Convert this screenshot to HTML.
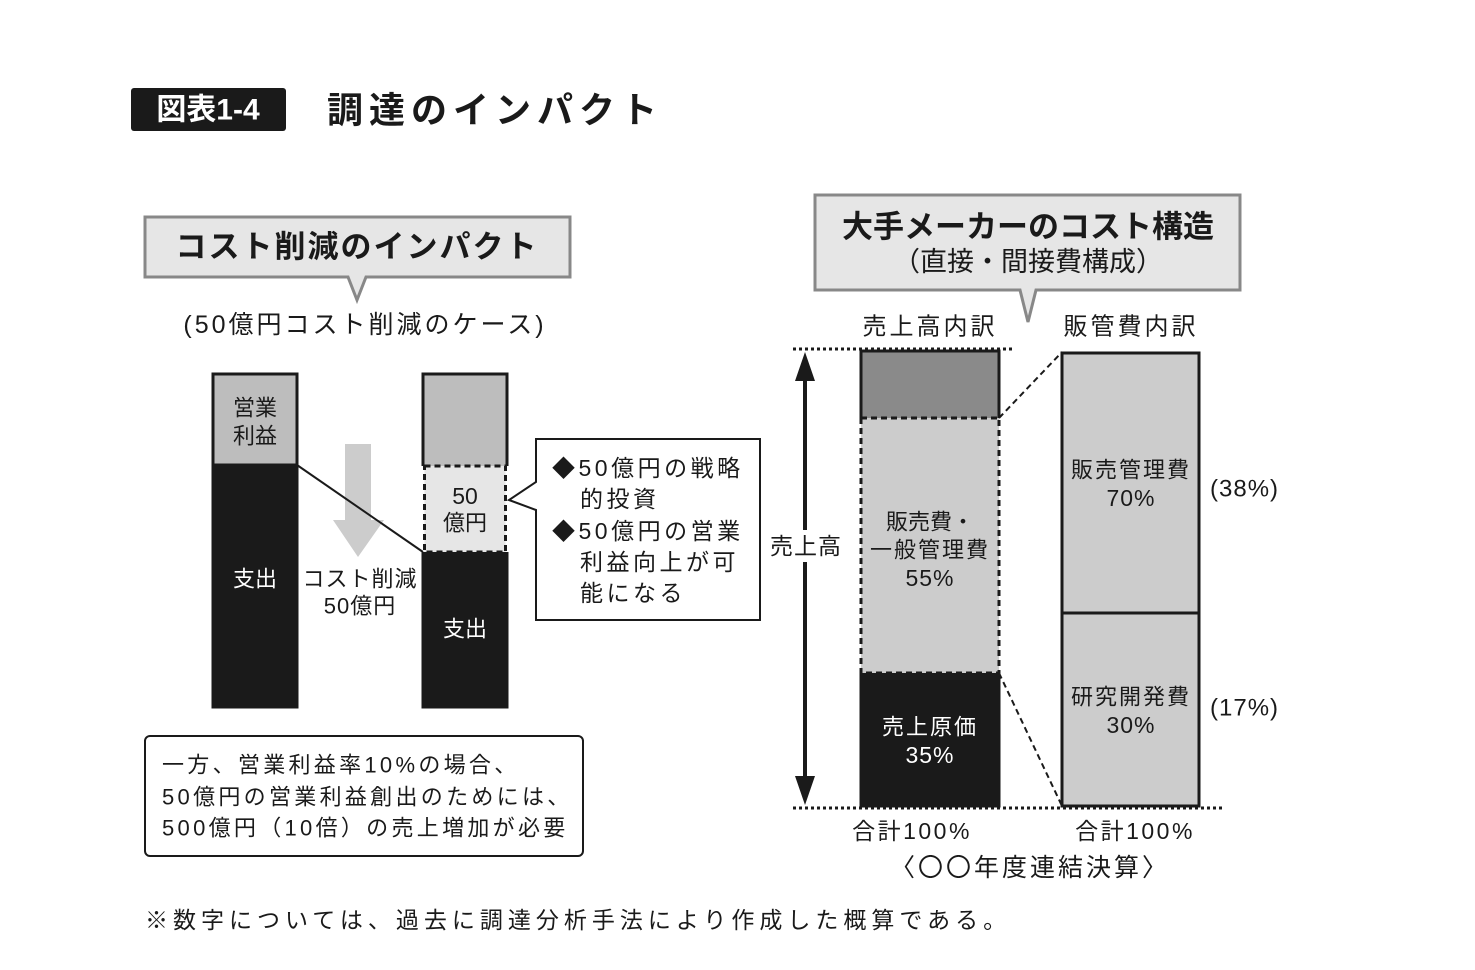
<!DOCTYPE html>
<html><head><meta charset="utf-8"><style>
body{margin:0;background:#fff}
svg{display:block;font-family:"Liberation Sans","Noto Sans CJK JP",sans-serif}
text{dominant-baseline:central}
</style></head><body>
<svg width="1475" height="970" viewBox="0 0 1475 970" xmlns="http://www.w3.org/2000/svg">
<rect x="131" y="88" width="155" height="43" rx="3" fill="#1a1a1a"/>
<text x="208" y="110" font-size="30" font-weight="bold" fill="#fff" text-anchor="middle">図表1-4</text>
<text x="327" y="110" font-size="36" font-weight="bold" fill="#1a1a1a" letter-spacing="6">調達のインパクト</text>

<path d="M145 217 H570 V277 H366 L357 300 L348 277 H145 Z" fill="#e6e6e6" stroke="#888" stroke-width="3"/>
<text x="357" y="247" font-size="31" font-weight="bold" text-anchor="middle" fill="#1a1a1a" letter-spacing="2">コスト削減のインパクト</text>
<text x="365" y="325" font-size="25" text-anchor="middle" fill="#1a1a1a" letter-spacing="3">(50億円コスト削減のケース)</text>

<rect x="213" y="374" width="84" height="333" fill="#1a1a1a" stroke="#1a1a1a" stroke-width="3"/>
<rect x="214.5" y="375.5" width="81" height="89" fill="#bdbdbd"/>
<line x1="213" y1="465" x2="297" y2="465" stroke="#1a1a1a" stroke-width="3"/>
<text x="255" y="408" font-size="22" text-anchor="middle" fill="#1a1a1a">営業</text>
<text x="255" y="436" font-size="22" text-anchor="middle" fill="#1a1a1a">利益</text>
<text x="255" y="579" font-size="22" text-anchor="middle" fill="#fff">支出</text>

<path d="M345 444 H371 V520 H384 L358 557 L333 520 H345 Z" fill="#cccccc"/>
<line x1="297" y1="465" x2="423" y2="552" stroke="#1a1a1a" stroke-width="2"/>
<text x="360" y="579" font-size="22" text-anchor="middle" fill="#1a1a1a" letter-spacing="1">コスト削減</text>
<text x="360" y="606" font-size="22" text-anchor="middle" fill="#1a1a1a" letter-spacing="1">50億円</text>

<rect x="424.5" y="375.5" width="81" height="91" fill="#bdbdbd"/>
<rect x="424.5" y="466" width="81" height="86" fill="#e6e6e6"/>
<rect x="424.5" y="552" width="81" height="154" fill="#1a1a1a"/>
<path d="M423 466 V374 H507 V466" fill="none" stroke="#1a1a1a" stroke-width="3"/>
<path d="M423 552 V707 H507 V552" fill="none" stroke="#1a1a1a" stroke-width="3"/>
<rect x="424.5" y="466" width="81" height="86" fill="none" stroke="#1a1a1a" stroke-width="3" stroke-dasharray="6 4"/>
<text x="465" y="496" font-size="23" text-anchor="middle" fill="#1a1a1a">50</text>
<text x="465" y="523" font-size="22" text-anchor="middle" fill="#1a1a1a">億円</text>
<text x="465" y="629" font-size="22" text-anchor="middle" fill="#fff">支出</text>

<path d="M536 439 H760 V620 H536 V510 L509 500 L536 482 Z" fill="#fff" stroke="#1a1a1a" stroke-width="2"/>
<g font-size="23" fill="#1a1a1a" letter-spacing="3.5">
<text x="552" y="468">◆50億円の戦略</text>
<text x="580" y="499">的投資</text>
<text x="552" y="531">◆50億円の営業</text>
<text x="580" y="562">利益向上が可</text>
<text x="580" y="593">能になる</text>
</g>

<rect x="145" y="736" width="438" height="120" rx="5" fill="#fff" stroke="#1a1a1a" stroke-width="2"/>
<g font-size="22" fill="#1a1a1a" letter-spacing="3.3">
<text x="162" y="765">一方、営業利益率10%の場合、</text>
<text x="162" y="797">50億円の営業利益創出のためには、</text>
<text x="162" y="828">500億円（10倍）の売上増加が必要</text>
</g>

<text x="145" y="920" font-size="23" fill="#1a1a1a" letter-spacing="5">※数字については、過去に調達分析手法により作成した概算である。</text>

<path d="M815 195 H1240 V290 H1036 L1028 322 L1020 290 H815 Z" fill="#e6e6e6" stroke="#888" stroke-width="3"/>
<text x="1028" y="227" font-size="31" font-weight="bold" text-anchor="middle" fill="#1a1a1a">大手メーカーのコスト構造</text>
<text x="1028" y="262" font-size="27" text-anchor="middle" fill="#1a1a1a">（直接・間接費構成）</text>
<text x="930" y="327" font-size="24" text-anchor="middle" fill="#1a1a1a" letter-spacing="3">売上高内訳</text>
<text x="1131" y="327" font-size="24" text-anchor="middle" fill="#1a1a1a" letter-spacing="3">販管費内訳</text>

<line x1="793" y1="349" x2="1015" y2="349" stroke="#1a1a1a" stroke-width="3" stroke-dasharray="3 3"/>
<line x1="793" y1="808" x2="1225" y2="808" stroke="#1a1a1a" stroke-width="3" stroke-dasharray="3 3"/>

<line x1="805" y1="375" x2="805" y2="785" stroke="#1a1a1a" stroke-width="4"/>
<path d="M805 352 L795 381 H815 Z M805 805 L795 776 H815 Z" fill="#1a1a1a"/>
<rect x="768" y="530" width="76" height="32" fill="#fff"/>
<text x="806" y="546" font-size="23" text-anchor="middle" fill="#1a1a1a" letter-spacing="1">売上高</text>

<rect x="861" y="351" width="138" height="67" fill="#8a8a8a"/>
<rect x="861" y="418" width="138" height="255" fill="#cccccc"/>
<rect x="861" y="673" width="138" height="133" fill="#1a1a1a"/>
<path d="M861 418 V351 H999 V418" fill="none" stroke="#1a1a1a" stroke-width="3"/>
<path d="M861 673 V806 H999 V673" fill="none" stroke="#1a1a1a" stroke-width="3"/>
<rect x="861" y="418" width="138" height="255" fill="none" stroke="#1a1a1a" stroke-width="3" stroke-dasharray="6 4"/>
<text x="930" y="522" font-size="22" text-anchor="middle" fill="#1a1a1a">販売費・</text>
<text x="930" y="550" font-size="22" text-anchor="middle" fill="#1a1a1a" letter-spacing="2">一般管理費</text>
<text x="930" y="578" font-size="23" text-anchor="middle" fill="#1a1a1a" letter-spacing="1">55%</text>
<text x="930" y="727" font-size="22" text-anchor="middle" fill="#fff" letter-spacing="2">売上原価</text>
<text x="930" y="755" font-size="23" text-anchor="middle" fill="#fff" letter-spacing="1">35%</text>

<line x1="999" y1="418" x2="1062" y2="352" stroke="#1a1a1a" stroke-width="2" stroke-dasharray="6 4"/>
<line x1="999" y1="673" x2="1062" y2="806" stroke="#1a1a1a" stroke-width="2" stroke-dasharray="6 4"/>

<rect x="1062" y="353" width="137" height="453" fill="#cccccc" stroke="#1a1a1a" stroke-width="3"/>
<line x1="1062" y1="613" x2="1199" y2="613" stroke="#1a1a1a" stroke-width="3"/>
<text x="1131" y="470" font-size="22" text-anchor="middle" fill="#1a1a1a" letter-spacing="2">販売管理費</text>
<text x="1131" y="498" font-size="23" text-anchor="middle" fill="#1a1a1a" letter-spacing="1">70%</text>
<text x="1131" y="697" font-size="22" text-anchor="middle" fill="#1a1a1a" letter-spacing="2">研究開発費</text>
<text x="1131" y="725" font-size="23" text-anchor="middle" fill="#1a1a1a" letter-spacing="1">30%</text>
<text x="1210" y="489" font-size="24" fill="#1a1a1a" letter-spacing="1">(38%)</text>
<text x="1210" y="708" font-size="24" fill="#1a1a1a" letter-spacing="1">(17%)</text>

<text x="912" y="831" font-size="23" text-anchor="middle" fill="#1a1a1a" letter-spacing="2.5">合計100%</text>
<text x="1135" y="831" font-size="23" text-anchor="middle" fill="#1a1a1a" letter-spacing="2.5">合計100%</text>
<text x="1030" y="868" font-size="25" text-anchor="middle" fill="#1a1a1a" letter-spacing="3">〈〇〇年度連結決算〉</text>
</svg>
</body></html>
